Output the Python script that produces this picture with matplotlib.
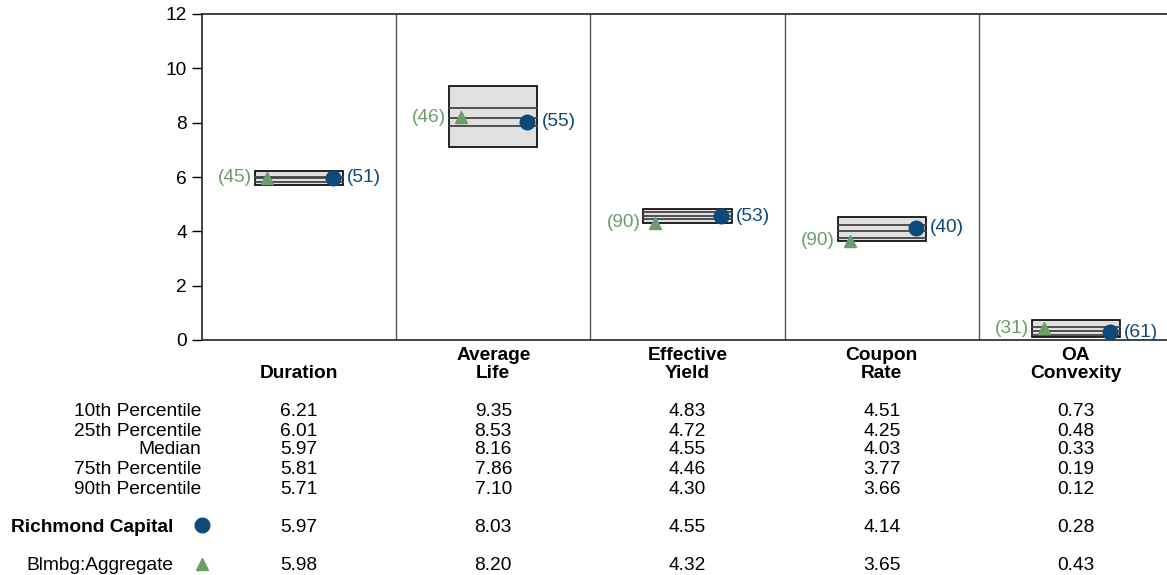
import matplotlib
matplotlib.use("Agg")
import matplotlib.pyplot as plt
from matplotlib.transforms import blended_transform_factory

plt.rcParams['font.family'] = ['Liberation Sans', 'DejaVu Sans']

categories = ["Duration", "Average\nLife", "Effective\nYield", "Coupon\nRate", "OA\nConvexity"]
p10 = [6.21, 9.35, 4.83, 4.51, 0.73]
p25 = [6.01, 8.53, 4.72, 4.25, 0.48]
median = [5.97, 8.16, 4.55, 4.03, 0.33]
p75 = [5.81, 7.86, 4.46, 3.77, 0.19]
p90 = [5.71, 7.10, 4.30, 3.66, 0.12]
portfolio = [5.97, 8.03, 4.55, 4.14, 0.28]
benchmark = [5.98, 8.20, 4.32, 3.65, 0.43]
portfolio_rank = ["(51)", "(55)", "(53)", "(40)", "(61)"]
benchmark_rank = ["(45)", "(46)", "(90)", "(90)", "(31)"]
row_labels = ["10th Percentile", "25th Percentile", "Median", "75th Percentile", "90th Percentile"]
portfolio_name = "Richmond Capital"
benchmark_name = "Blmbg:Aggregate"

navy = "#0d4a78"
green = "#6a9e6a"
FS = 13.8

W, H = 1167, 575
fig = plt.figure(figsize=(W / 100, H / 100), dpi=100)
ax = fig.add_axes([202 / W, 1 - 340 / H, (1173 - 202) / W, (340 - 14) / H])
ax.set_xlim(0, 5)
ax.set_ylim(0, 12)
ax.set_yticks(range(0, 13, 2))
ax.set_xticks([])
ax.tick_params(axis='y', direction='out', length=7, width=1, labelsize=FS, pad=4)
for s in ['left', 'bottom', 'top']:
    ax.spines[s].set_color('#222222')
    ax.spines[s].set_linewidth(1.2)
ax.spines['right'].set_visible(False)

for i in range(1, 5):
    ax.axvline(i, color='#555555', lw=1.0, zorder=1)

hw = 0.227
for i in range(5):
    c = i + 0.5
    ax.bar(c, p10[i] - p90[i], bottom=p90[i], width=2 * hw, color='#e0e0e0',
           edgecolor='black', linewidth=1.2, zorder=2)
    for v in (p25[i], median[i], p75[i]):
        ax.plot([c - hw, c + hw], [v, v], color='#444444', lw=1.3, zorder=3)
    ax.plot(c + 0.175, portfolio[i], 'o', color=navy, ms=10.5, zorder=5)
    ax.plot(c - 0.165, benchmark[i], '^', color=green, ms=9, zorder=5)
    ax.annotate(benchmark_rank[i], (c - hw, benchmark[i]), xytext=(-2, 0),
                textcoords='offset points', ha='right', va='center',
                color=green, fontsize=FS)
    ax.annotate(portfolio_rank[i], (c + hw, portfolio[i]), xytext=(3, 0),
                textcoords='offset points', ha='left', va='center',
                color=navy, fontsize=FS)

tr = blended_transform_factory(ax.transData, fig.transFigure)
for i, cat in enumerate(categories):
    ax.text(i + 0.5, 1 - 382 / H, cat, transform=tr, ha='center', va='bottom',
            fontsize=FS, fontweight='bold', linespacing=1.08)

rows_y = [412, 431, 450, 469, 489]
table_vals = [p10, p25, median, p75, p90]
for ry, lab, vals in zip(rows_y, row_labels, table_vals):
    yf = 1 - ry / H
    fig.text(201 / W, yf, lab, ha='right', va='center', fontsize=FS)
    for i, v in enumerate(vals):
        ax.text(i + 0.5, yf, f"{v:.2f}", transform=tr, ha='center', va='center', fontsize=FS)

yp = 1 - 527 / H
fig.text(173 / W, yp, portfolio_name, ha='right', va='center', fontsize=FS, fontweight='bold')
fig.lines.append(matplotlib.lines.Line2D([202 / W], [1 - 525 / H], marker='o', color=navy, ms=10.5,
                                         transform=fig.transFigure))
for i, v in enumerate(portfolio):
    ax.text(i + 0.5, yp, f"{v:.2f}", transform=tr, ha='center', va='center', fontsize=FS)

yb = 1 - 566 / H
fig.text(173 / W, yb, benchmark_name, ha='right', va='center', fontsize=FS)
fig.lines.append(matplotlib.lines.Line2D([202 / W], [1 - 564 / H], marker='^', color=green, ms=9,
                                         transform=fig.transFigure))
for i, v in enumerate(benchmark):
    ax.text(i + 0.5, yb, f"{v:.2f}", transform=tr, ha='center', va='center', fontsize=FS)

fig.savefig("out.png", dpi=100)
